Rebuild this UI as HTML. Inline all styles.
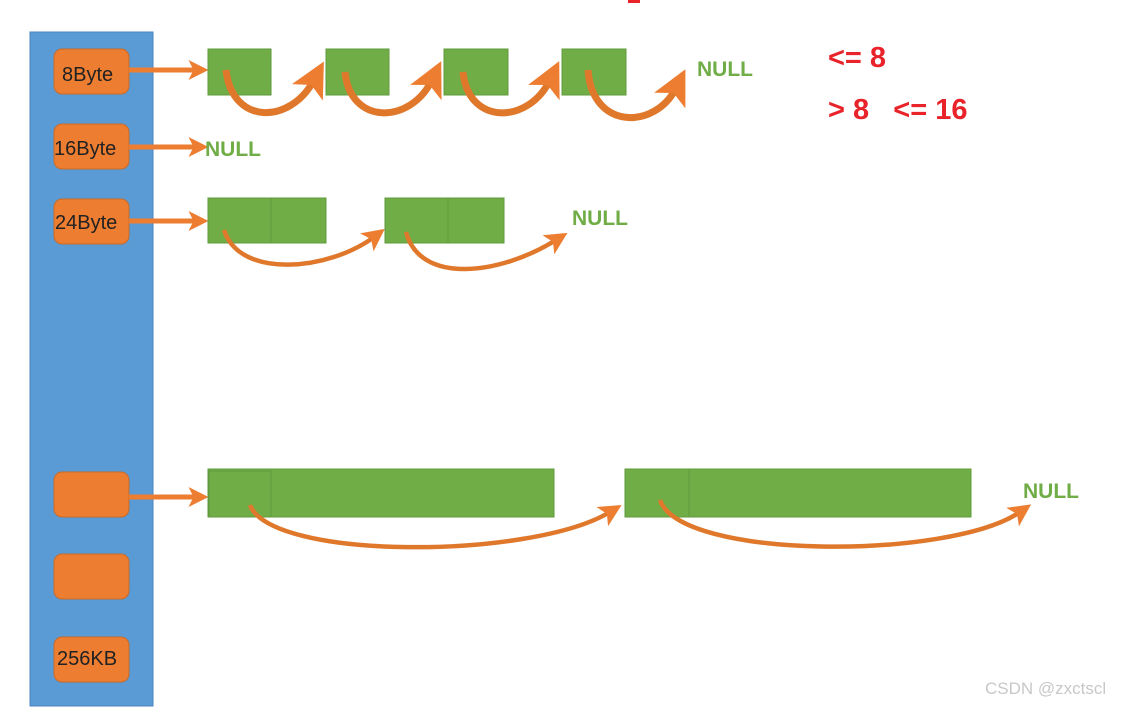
<!DOCTYPE html>
<html><head><meta charset="utf-8"><style>
body{margin:0;background:#fff;width:1135px;height:709px;overflow:hidden;position:relative;font-family:"Liberation Sans",sans-serif}
.t{position:absolute;font-family:"Liberation Sans",sans-serif}
</style></head><body>
<svg width="1135" height="709" style="position:absolute;left:0;top:0">
<defs>
<marker id="a" markerWidth="4" markerHeight="4" refX="1.5" refY="2" orient="auto" markerUnits="strokeWidth"><path d="M0,0 L4,2 L0,4 L1,2 z" fill="#ED7D31"/></marker>
<marker id="b" markerWidth="5" markerHeight="5" refX="2" refY="2.5" orient="auto" markerUnits="strokeWidth"><path d="M0,0 L5,2.5 L0,5 L1.2,2.5 z" fill="#ED7D31"/></marker>
</defs>
<rect x="653" y="0" width="0" height="0"/>
<rect x="628" y="0" width="12" height="3" fill="#e8232a"/>
<rect x="30" y="32" width="123" height="674" fill="#5B9BD5" stroke="#4a86c0"/>
<g fill="#ED7D31" stroke="#c96a28" stroke-width="1">
<rect x="54" y="49" width="75" height="45" rx="8"/>
<rect x="54" y="124" width="75" height="45" rx="8"/>
<rect x="54" y="199" width="75" height="45" rx="8"/>
<rect x="54" y="472" width="75" height="45" rx="8"/>
<rect x="54" y="554" width="75" height="45" rx="8"/>
<rect x="54" y="637" width="75" height="45" rx="8"/>
</g>
<g stroke="#ED7D31" stroke-width="5" fill="none" marker-end="url(#a)">
<line x1="129" y1="70" x2="196" y2="70"/>
<line x1="129" y1="147" x2="196" y2="147"/>
<line x1="129" y1="221" x2="196" y2="221"/>
<line x1="129" y1="497" x2="196" y2="497"/>
</g>
<g fill="#70AD47" stroke="#5f9a3b" stroke-width="1">
<rect x="208" y="49" width="63" height="46"/>
<rect x="326" y="49" width="63" height="46"/>
<rect x="444" y="49" width="64" height="46"/>
<rect x="562" y="49" width="64" height="46"/>
<rect x="208" y="198" width="63" height="45"/>
<rect x="271" y="198" width="55" height="45"/>
<rect x="385" y="198" width="63" height="45"/>
<rect x="448" y="198" width="56" height="45"/>
<rect x="208" y="469" width="346" height="48"/>
<rect x="209" y="471" width="62" height="46"/>
<rect x="625" y="469" width="346" height="48"/>
<rect x="625" y="469" width="64" height="48"/>
</g>
<g stroke="#E0782C" stroke-width="7" fill="none" marker-end="url(#b)">
<path d="M226,70 C232,125 290,125 314,80"/>
<path d="M345,72 C350,125 410,125 432,80"/>
<path d="M463,72 C468,125 528,125 550,80"/>
<path d="M588,70 C592,130 655,130 676,88"/>
</g>
<g stroke="#E0782C" stroke-width="4.5" fill="none" marker-end="url(#b)">
<path d="M224,230 C240,280 330,270 374,237"/>
<path d="M406,232 C420,285 500,275 556,240"/>
<path d="M250,505 C270,560 530,560 610,512"/>
<path d="M660,500 C680,560 950,560 1020,512"/>
</g>
</svg>
<div class="t" style="left:62px;top:64px;font-size:20px;color:#222">8Byte</div>
<div class="t" style="left:54px;top:138px;font-size:20px;color:#222">16Byte</div>
<div class="t" style="left:55px;top:212px;font-size:20px;color:#222">24Byte</div>
<div class="t" style="left:57px;top:648px;font-size:20px;color:#222">256KB</div>
<div class="t" style="left:205px;top:138px;font-size:21px;font-weight:bold;color:#70AD47">NULL</div>
<div class="t" style="left:697px;top:58px;font-size:21px;font-weight:bold;color:#70AD47">NULL</div>
<div class="t" style="left:572px;top:207px;font-size:21px;font-weight:bold;color:#70AD47">NULL</div>
<div class="t" style="left:1023px;top:480px;font-size:21px;font-weight:bold;color:#70AD47">NULL</div>
<div class="t" style="left:828px;top:42px;font-size:29px;font-weight:bold;color:#e8232a">&lt;= 8</div>
<div class="t" style="left:828px;top:94px;font-size:29px;font-weight:bold;color:#e8232a;white-space:pre">&gt; 8   &lt;= 16</div>
<div class="t" style="left:985px;top:679px;font-size:17px;color:#c8c8c8">CSDN @zxctscl</div>
</body></html>
